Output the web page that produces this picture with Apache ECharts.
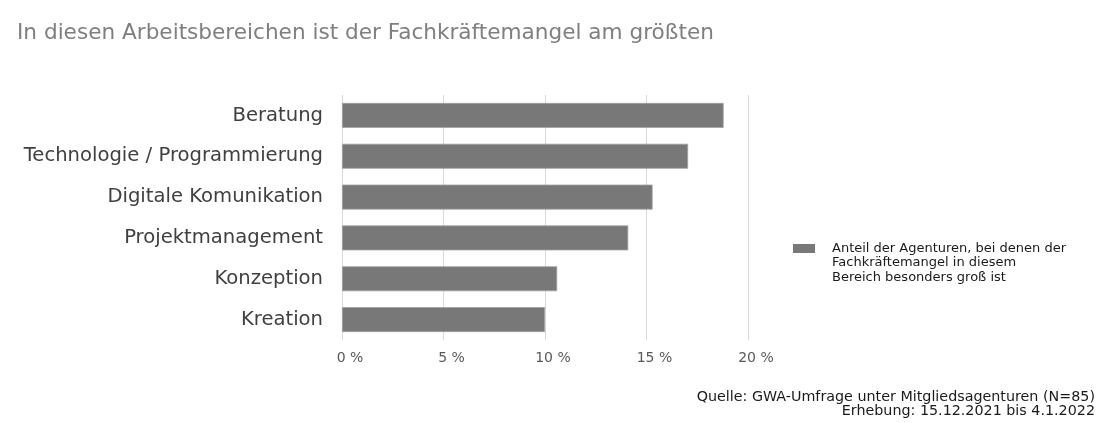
<!DOCTYPE html>
<html>
<head>
<meta charset="utf-8">
<script src="https://cdn.jsdelivr.net/npm/echarts@6/dist/echarts.min.js"></script>
<style>html,body{margin:0;padding:0;background:#fff}#c{width:1106px;height:423px}</style>
</head>
<body>
<div id="c"></div>
<script>
const categories = ['Beratung', 'Technologie / Programmierung', 'Digitale Komunikation', 'Projektmanagement', 'Konzeption', 'Kreation'];
const values = [18.8, 17.05, 15.3, 14.1, 10.6, 10.0];
const seriesName = 'Anteil der Agenturen, bei denen der\nFachkräftemangel in diesem\nBereich besonders groß ist';
const titleText = 'In diesen Arbeitsbereichen ist der Fachkräftemangel am größten';
const sourceText = 'Quelle: GWA-Umfrage unter Mitgliedsagenturen (N=85)\nErhebung: 15.12.2021 bis 4.1.2022';
const FONT = 'DejaVu Sans';

const chart = echarts.init(document.getElementById('c'), null, {renderer: 'canvas'});
chart.setOption({
  animation: false,
  backgroundColor: '#ffffff',
  textStyle: {fontFamily: FONT},
  title: {
    text: titleText, left: 12, top: 17,
    textStyle: {fontFamily: FONT, fontSize: 21.6, fontWeight: 'normal', color: '#7f7f7f'}
  },
  grid: {left: 342, right: 358, top: 95, bottom: 83, containLabel: false},
  legend: {
    left: 788, top: 208,
    icon: 'rect', itemWidth: 22, itemHeight: 9, itemGap: 0,
    itemStyle: {borderWidth: 0},
    formatter: function (name) {
      const lines = ['', ''].concat(name.split('\n'));
      return lines.map(l => '{t|' + (l || ' ') + '}').join('\n');
    },
    textStyle: {
      fontFamily: FONT, fontSize: 13, color: '#1a1a1a',
      rich: {t: {fontFamily: FONT, fontSize: 13, color: '#1a1a1a', lineHeight: 14.5, padding: [0, 0, 0, 12]}}
    },
    data: [seriesName]
  },
  xAxis: {
    type: 'value', min: 0, max: 20, interval: 5,
    axisLine: {show: false}, axisTick: {show: false},
    splitLine: {lineStyle: {color: '#d9d9d9', width: 1}},
    axisLabel: {
      formatter: function (v) { return '{v|' + v + ' %}'; },
      align: 'center', margin: 11,
      rich: {v: {color: '#595959', fontSize: 14, fontFamily: FONT, padding: [0, 0, 0, 16]}}
    }
  },
  yAxis: {
    type: 'category', data: categories, inverse: true,
    axisLine: {show: false}, axisTick: {show: false},
    axisLabel: {color: '#404040', fontSize: 19.6, margin: 19, fontFamily: FONT}
  },
  series: [{
    name: seriesName, type: 'bar', data: values,
    barCategoryGap: '39%',
    itemStyle: {color: '#787878', borderColor: '#a0a0a0', borderWidth: 0.8}
  }],
  graphic: [{
    type: 'text', right: 11, top: 390,
    style: {text: sourceText, align: 'right', textAlign: 'right', font: '14.3px ' + FONT, fill: '#1a1a1a', lineHeight: 14}
  }]
});
</script>
</body>
</html>
